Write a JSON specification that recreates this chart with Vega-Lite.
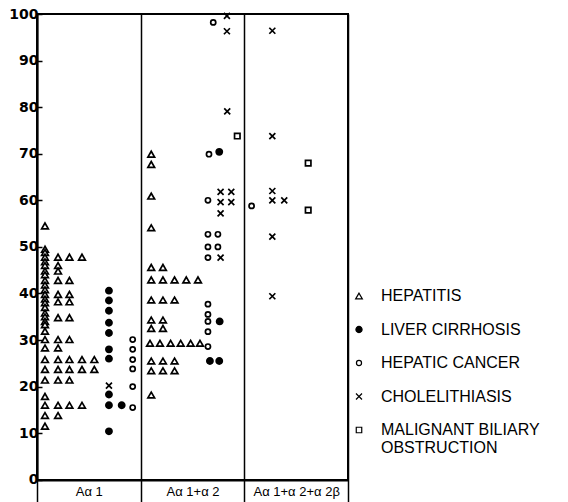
{
  "$schema": "https://vega.github.io/schema/vega-lite/v6.json",
  "width": 311,
  "height": 466,
  "autosize": {"type": "none"},
  "padding": {"left": 37, "top": 14, "right": 220, "bottom": 22},
  "background": "white",
  "config": {"view": {"stroke": "black", "strokeWidth": 2}, "font": "Liberation Sans"},
  "data": {"values": [
    {"g":0.077,"v":54.5,"d":"HEPATITIS"},{"g":0.077,"v":49.5,"d":"HEPATITIS"},{"g":0.077,"v":48.8,"d":"HEPATITIS"},{"g":0.077,"v":47.8,"d":"HEPATITIS"},{"g":0.077,"v":46.8,"d":"HEPATITIS"},{"g":0.077,"v":46,"d":"HEPATITIS"},{"g":0.077,"v":44.8,"d":"HEPATITIS"},{"g":0.077,"v":44,"d":"HEPATITIS"},{"g":0.077,"v":42.8,"d":"HEPATITIS"},{"g":0.077,"v":41.8,"d":"HEPATITIS"},{"g":0.077,"v":40.8,"d":"HEPATITIS"},{"g":0.077,"v":39.8,"d":"HEPATITIS"},{"g":0.077,"v":38.8,"d":"HEPATITIS"},{"g":0.077,"v":38,"d":"HEPATITIS"},{"g":0.077,"v":37,"d":"HEPATITIS"},{"g":0.077,"v":35.8,"d":"HEPATITIS"},{"g":0.077,"v":35,"d":"HEPATITIS"},{"g":0.077,"v":34,"d":"HEPATITIS"},{"g":0.077,"v":33.3,"d":"HEPATITIS"},{"g":0.077,"v":31.9,"d":"HEPATITIS"},{"g":0.077,"v":30.1,"d":"HEPATITIS"},{"g":0.077,"v":28.3,"d":"HEPATITIS"},{"g":0.077,"v":25.8,"d":"HEPATITIS"},{"g":0.077,"v":23.7,"d":"HEPATITIS"},{"g":0.077,"v":21.4,"d":"HEPATITIS"},{"g":0.077,"v":17.9,"d":"HEPATITIS"},{"g":0.077,"v":16,"d":"HEPATITIS"},{"g":0.077,"v":13.8,"d":"HEPATITIS"},{"g":0.077,"v":11.5,"d":"HEPATITIS"},
    {"g":0.203,"v":47.8,"d":"HEPATITIS"},{"g":0.203,"v":46,"d":"HEPATITIS"},{"g":0.203,"v":44.8,"d":"HEPATITIS"},{"g":0.203,"v":42.8,"d":"HEPATITIS"},{"g":0.203,"v":39.8,"d":"HEPATITIS"},{"g":0.203,"v":38.2,"d":"HEPATITIS"},{"g":0.203,"v":34.8,"d":"HEPATITIS"},{"g":0.203,"v":30.1,"d":"HEPATITIS"},{"g":0.203,"v":28.3,"d":"HEPATITIS"},{"g":0.203,"v":25.8,"d":"HEPATITIS"},{"g":0.203,"v":23.7,"d":"HEPATITIS"},{"g":0.203,"v":21.4,"d":"HEPATITIS"},{"g":0.203,"v":16,"d":"HEPATITIS"},{"g":0.203,"v":13.8,"d":"HEPATITIS"},
    {"g":0.313,"v":47.8,"d":"HEPATITIS"},{"g":0.313,"v":42.8,"d":"HEPATITIS"},{"g":0.313,"v":39.8,"d":"HEPATITIS"},{"g":0.313,"v":38.2,"d":"HEPATITIS"},{"g":0.313,"v":34.8,"d":"HEPATITIS"},{"g":0.313,"v":30.1,"d":"HEPATITIS"},{"g":0.313,"v":25.8,"d":"HEPATITIS"},{"g":0.313,"v":23.7,"d":"HEPATITIS"},{"g":0.313,"v":21.4,"d":"HEPATITIS"},{"g":0.313,"v":16,"d":"HEPATITIS"},
    {"g":0.434,"v":47.8,"d":"HEPATITIS"},{"g":0.434,"v":25.8,"d":"HEPATITIS"},{"g":0.434,"v":23.7,"d":"HEPATITIS"},{"g":0.434,"v":16,"d":"HEPATITIS"},
    {"g":0.553,"v":25.8,"d":"HEPATITIS"},{"g":0.553,"v":23.7,"d":"HEPATITIS"},
    {"g":0.694,"v":40.6,"d":"LIVER CIRRHOSIS"},{"g":0.694,"v":38.5,"d":"LIVER CIRRHOSIS"},{"g":0.694,"v":36.3,"d":"LIVER CIRRHOSIS"},{"g":0.694,"v":33.7,"d":"LIVER CIRRHOSIS"},{"g":0.694,"v":31.5,"d":"LIVER CIRRHOSIS"},{"g":0.694,"v":28,"d":"LIVER CIRRHOSIS"},{"g":0.694,"v":26,"d":"LIVER CIRRHOSIS"},{"g":0.694,"v":18.3,"d":"LIVER CIRRHOSIS"},{"g":0.694,"v":16,"d":"LIVER CIRRHOSIS"},{"g":0.694,"v":10.4,"d":"LIVER CIRRHOSIS"},{"g":0.817,"v":16,"d":"LIVER CIRRHOSIS"},
    {"g":0.923,"v":30.1,"d":"HEPATIC CANCER"},{"g":0.923,"v":28,"d":"HEPATIC CANCER"},{"g":0.923,"v":25.8,"d":"HEPATIC CANCER"},{"g":0.923,"v":23.8,"d":"HEPATIC CANCER"},{"g":0.923,"v":20,"d":"HEPATIC CANCER"},{"g":0.923,"v":15.5,"d":"HEPATIC CANCER"},
    {"g":0.694,"v":20.2,"d":"CHOLELITHIASIS"},
    {"g":1.102,"v":69.9,"d":"HEPATITIS"},{"g":1.102,"v":67.7,"d":"HEPATITIS"},{"g":1.102,"v":60.9,"d":"HEPATITIS"},{"g":1.102,"v":54.1,"d":"HEPATITIS"},{"g":1.102,"v":45.6,"d":"HEPATITIS"},{"g":1.102,"v":42.9,"d":"HEPATITIS"},{"g":1.102,"v":38.6,"d":"HEPATITIS"},{"g":1.102,"v":34.3,"d":"HEPATITIS"},{"g":1.102,"v":32.5,"d":"HEPATITIS"},{"g":1.102,"v":25.5,"d":"HEPATITIS"},{"g":1.102,"v":23.4,"d":"HEPATITIS"},{"g":1.102,"v":18.2,"d":"HEPATITIS"},
    {"g":1.215,"v":45.6,"d":"HEPATITIS"},{"g":1.215,"v":42.9,"d":"HEPATITIS"},{"g":1.215,"v":38.6,"d":"HEPATITIS"},{"g":1.215,"v":34.3,"d":"HEPATITIS"},{"g":1.215,"v":32.5,"d":"HEPATITIS"},{"g":1.215,"v":25.5,"d":"HEPATITIS"},{"g":1.215,"v":23.4,"d":"HEPATITIS"},
    {"g":1.327,"v":42.9,"d":"HEPATITIS"},{"g":1.327,"v":38.6,"d":"HEPATITIS"},{"g":1.327,"v":25.5,"d":"HEPATITIS"},{"g":1.327,"v":23.4,"d":"HEPATITIS"},
    {"g":1.44,"v":42.9,"d":"HEPATITIS"},{"g":1.553,"v":42.9,"d":"HEPATITIS"},
    {"g":1.09,"v":29.3,"d":"HEPATITIS"},{"g":1.186,"v":29.3,"d":"HEPATITIS"},{"g":1.289,"v":29.3,"d":"HEPATITIS"},{"g":1.386,"v":29.3,"d":"HEPATITIS"},{"g":1.482,"v":29.3,"d":"HEPATITIS"},{"g":1.572,"v":29.3,"d":"HEPATITIS"},
    {"g":1.70,"v":98.2,"d":"HEPATIC CANCER"},{"g":1.659,"v":69.9,"d":"HEPATIC CANCER"},{"g":1.649,"v":60,"d":"HEPATIC CANCER"},{"g":1.649,"v":52.7,"d":"HEPATIC CANCER"},{"g":1.649,"v":50,"d":"HEPATIC CANCER"},{"g":1.649,"v":47.7,"d":"HEPATIC CANCER"},{"g":1.649,"v":37.7,"d":"HEPATIC CANCER"},{"g":1.649,"v":35.5,"d":"HEPATIC CANCER"},{"g":1.649,"v":34,"d":"HEPATIC CANCER"},{"g":1.649,"v":31.8,"d":"HEPATIC CANCER"},{"g":1.649,"v":28.6,"d":"HEPATIC CANCER"},{"g":1.745,"v":52.7,"d":"HEPATIC CANCER"},{"g":1.745,"v":50,"d":"HEPATIC CANCER"},
    {"g":1.758,"v":70.4,"d":"LIVER CIRRHOSIS"},{"g":1.762,"v":34,"d":"LIVER CIRRHOSIS"},{"g":1.668,"v":25.5,"d":"LIVER CIRRHOSIS"},{"g":1.758,"v":25.5,"d":"LIVER CIRRHOSIS"},
    {"g":1.832,"v":99.6,"d":"CHOLELITHIASIS"},{"g":1.832,"v":96.3,"d":"CHOLELITHIASIS"},{"g":1.835,"v":79.1,"d":"CHOLELITHIASIS"},{"g":1.771,"v":61.8,"d":"CHOLELITHIASIS"},{"g":1.874,"v":61.8,"d":"CHOLELITHIASIS"},{"g":1.771,"v":59.6,"d":"CHOLELITHIASIS"},{"g":1.874,"v":59.6,"d":"CHOLELITHIASIS"},{"g":1.771,"v":57.2,"d":"CHOLELITHIASIS"},{"g":1.771,"v":47.7,"d":"CHOLELITHIASIS"},
    {"g":1.932,"v":73.8,"d":"MALIGNANT BILIARY OBSTRUCTION"},
    {"g":2.27,"v":96.4,"d":"CHOLELITHIASIS"},{"g":2.27,"v":73.8,"d":"CHOLELITHIASIS"},{"g":2.27,"v":62,"d":"CHOLELITHIASIS"},{"g":2.27,"v":60,"d":"CHOLELITHIASIS"},{"g":2.385,"v":60,"d":"CHOLELITHIASIS"},{"g":2.27,"v":52.2,"d":"CHOLELITHIASIS"},{"g":2.27,"v":39.4,"d":"CHOLELITHIASIS"},
    {"g":2.07,"v":58.8,"d":"HEPATIC CANCER"},
    {"g":2.616,"v":68,"d":"MALIGNANT BILIARY OBSTRUCTION"},{"g":2.616,"v":57.9,"d":"MALIGNANT BILIARY OBSTRUCTION"}
  ]},
  "mark": {"type": "point", "filled": true, "stroke": "black", "strokeWidth": 1.7, "opacity": 1, "clip": false},
  "encoding": {
    "x": {"field": "g", "type": "quantitative",
      "scale": {"domain": [0, 3], "nice": false, "zero": false},
      "axis": {"values": [0, 0.5, 1, 1.5, 2, 2.5, 3], "title": null,
        "domainColor": "black", "domainWidth": 2,
        "tickSize": 22, "tickWidth": 1.5, "tickColor": "black",
        "tickOpacity": {"condition": {"test": "datum.value % 1 != 0", "value": 0}, "value": 1},
        "grid": true, "gridColor": "black", "gridWidth": 1.5,
        "gridOpacity": {"condition": {"test": "datum.value % 1 != 0", "value": 0}, "value": 1},
        "labelExpr": "datum.value == 0.5 ? 'Aα 1' : datum.value == 1.5 ? 'Aα 1+α 2' : datum.value == 2.5 ? 'Aα 1+α 2+α 2β' : ''",
        "labelPadding": -17, "labelBaseline": "top", "labelFont": "Liberation Sans", "labelFontSize": 13, "labelColor": "black",
        "labelOverlap": false, "labelFlush": false, "labelBound": false}},
    "y": {"field": "v", "type": "quantitative",
      "scale": {"domain": [-0.05, 100], "nice": false, "zero": false},
      "axis": {"values": [0, 10, 20, 30, 40, 50, 60, 70, 80, 90, 100], "title": null, "zindex": 2,
        "domainColor": "black", "domainWidth": 2, "grid": false,
        "tickSize": -5, "tickColor": "black", "tickWidth": 1.5,
        "labelFont": "DejaVu Sans", "labelFontWeight": "bold", "labelFontSize": 14, "labelColor": "black", "labelPadding": 4,
        "labelOverlap": false, "labelFlush": false, "labelBound": false, "labelAlign": "right", "labelBaseline": "middle"}},
    "shape": {"field": "d", "type": "nominal",
      "scale": {"domain": ["HEPATITIS", "LIVER CIRRHOSIS", "HEPATIC CANCER", "CHOLELITHIASIS", "MALIGNANT BILIARY OBSTRUCTION"],
        "range": ["triangle-up", "circle", "circle", "M-1,-1L1,1M-1,1L1,-1", "square"]},
      "legend": {"title": null, "orient": "none", "legendX": 314, "legendY": 274,
        "labelFont": "Liberation Sans", "labelFontSize": 16, "labelColor": "black",
        "labelExpr": "datum.label == 'MALIGNANT BILIARY OBSTRUCTION' ? ['MALIGNANT  BILIARY', 'OBSTRUCTION'] : datum.label",
        "labelOffset": 14, "rowPadding": 17.5, "symbolStrokeWidth": 1.2, "symbolStrokeColor": "black", "labelLimit": 300}},
    "fill": {"field": "d", "type": "nominal",
      "scale": {"domain": ["HEPATITIS", "LIVER CIRRHOSIS", "HEPATIC CANCER", "CHOLELITHIASIS", "MALIGNANT BILIARY OBSTRUCTION"],
        "range": ["white", "black", "white", "white", "white"]},
      "legend": {"title": null}},
    "size": {"field": "d", "type": "nominal",
      "scale": {"type": "ordinal", "domain": ["HEPATITIS", "LIVER CIRRHOSIS", "HEPATIC CANCER", "CHOLELITHIASIS", "MALIGNANT BILIARY OBSTRUCTION"],
        "range": [45, 38, 26, 36, 30]},
      "legend": {"title": null}}
  }
}
